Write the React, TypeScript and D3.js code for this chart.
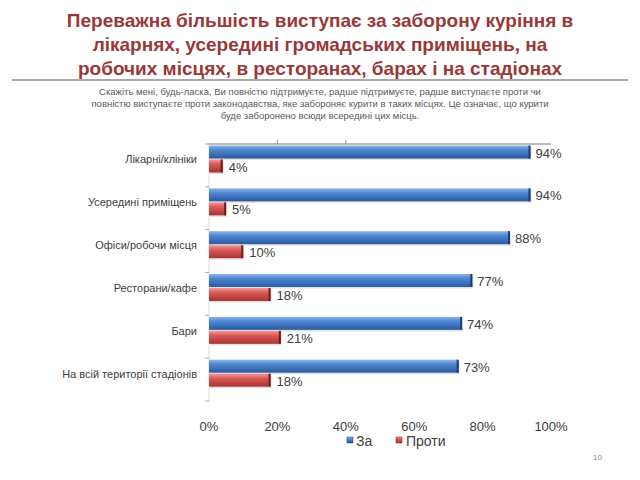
import React from 'react';
import * as d3 from 'd3';

// data
const categories = [
  'Лікарні/клініки',
  'Усередині приміщень',
  'Офіси/робочи місця',
  'Ресторани/кафе',
  'Бари',
  'На всій території стадіонів',
];
const forValues = [0.94, 0.94, 0.88, 0.77, 0.74, 0.73];
const againstValues = [0.04, 0.05, 0.1, 0.18, 0.21, 0.18];
const tickValues = [0, 0.2, 0.4, 0.6, 0.8, 1];
const seriesNames = ['За', 'Проти'];

const titleLines = [
  'Переважна більшість виступає за заборону куріння в',
  'лікарнях, усередині громадських приміщень, на',
  'робочих місцях, в ресторанах, барах і на стадіонах',
];
const subtitleLines = [
  'Скажіть мені, будь-ласка, Ви повністю підтримуєте, радше підтримуєте, радше виступаєте проти чи',
  'повністю виступаєте проти законодавства, яке забороняє курити в таких місцях. Це означає, що курити',
  'буде заборонено всюди всередині цих місць.',
];

const W = 640;
const H = 480;
const font = '"Liberation Sans", Arial, sans-serif';
const textGray = '#404040';

const x = d3.scaleLinear().domain([0, 1]).range([209, 551]);
const y = d3.scaleBand().domain(categories).range([144, 401]);
const fmt = d3.format('.0%');

function Bar({ x0, x1, top, h, id, edge }: any) {
  const w = Math.max(0, x1 - x0);
  return (
    <g>
      <rect x={x0 + 1} y={top + 1.5} width={w} height={h} fill="#000" opacity={0.12} />
      <rect x={x0} y={top} width={w} height={h} fill={`url(#${id})`} />
      <rect x={x1 - 2} y={top} width={2} height={h} fill={edge} />
    </g>
  );
}

export default function App() {
  const bh = 13;
  return (
    <svg
      width={W}
      height={H}
      style={{ position: 'absolute', left: 0, top: 0, background: '#fff' }}
    >
      <defs>
        <linearGradient id="gFor" x1="0" y1="0" x2="0" y2="1">
          <stop offset="0" stopColor="#8db6ea" />
          <stop offset="0.35" stopColor="#4f86d2" />
          <stop offset="1" stopColor="#2a5a9e" />
        </linearGradient>
        <linearGradient id="gAgainst" x1="0" y1="0" x2="0" y2="1">
          <stop offset="0" stopColor="#f29a98" />
          <stop offset="0.35" stopColor="#da5a57" />
          <stop offset="1" stopColor="#a93431" />
        </linearGradient>
      </defs>

      {/* title */}
      {titleLines.map((t, i) => (
        <text
          key={i}
          x={W / 2}
          y={27 + i * 24}
          textAnchor="middle"
          fontFamily={font}
          fontWeight="bold"
          fontSize={19}
          fill="#9a3838"
        >
          {t}
        </text>
      ))}
      <line x1={12} x2={628} y1={80} y2={80} stroke="#555" strokeWidth={1.2} />

      {subtitleLines.map((t, i) => (
        <text
          key={i}
          x={W / 2}
          y={95 + i * 12}
          textAnchor="middle"
          fontFamily={font}
          fontSize={9.5}
          fill="#595959"
        >
          {t}
        </text>
      ))}

      {/* plot frame */}
      <line x1={x(0) - 1} x2={x(1)} y1={y.range()[0]} y2={y.range()[0]} stroke="#555" strokeWidth={0.8} />
      {[0.2, 0.4].map((v) => (
        <line key={v} x1={x(v)} x2={x(v)} y1={140} y2={144} stroke="#777" strokeWidth={0.8} />
      ))}
      <line x1={x(0)} x2={x(0)} y1={144} y2={401} stroke="#ddd" strokeWidth={1} />
      {categories.map((c) => (
        <line key={c} x1={x(0) - 4} x2={x(0)} y1={y(c)} y2={y(c)} stroke="#999" strokeWidth={0.8} />
      ))}
      <line x1={x(0) - 4} x2={x(0)} y1={401} y2={401} stroke="#999" strokeWidth={0.8} />

      {/* bars */}
      {categories.map((c, i) => {
        const top = (y(c) as number) + 1.5;
        return (
          <g key={c}>
            <text
              x={197}
              y={top + bh + 1}
              dy="0.35em"
              textAnchor="end"
              fontFamily={font}
              fontSize={11}
              fill={textGray}
            >
              {c}
            </text>
            <Bar x0={x(0)} x1={x(forValues[i])} top={top} h={bh} id="gFor" edge="#1f3f70" />
            <Bar x0={x(0)} x1={x(againstValues[i])} top={top + bh + 1} h={bh} id="gAgainst" edge="#6e1e1c" />
            <text
              x={x(forValues[i]) + 5}
              y={top + bh / 2 + 1}
              dy="0.35em"
              fontFamily={font}
              fontSize={13}
              fill={textGray}
            >
              {fmt(forValues[i])}
            </text>
            <text
              x={x(againstValues[i]) + 6}
              y={top + bh * 1.5 + 2}
              dy="0.35em"
              fontFamily={font}
              fontSize={13}
              fill={textGray}
            >
              {fmt(againstValues[i])}
            </text>
          </g>
        );
      })}

      {/* x tick labels */}
      {tickValues.map((v) => (
        <text
          key={v}
          x={x(v)}
          y={426}
          dy="0.35em"
          textAnchor="middle"
          fontFamily={font}
          fontSize={13}
          fill={textGray}
        >
          {fmt(v)}
        </text>
      ))}

      {/* legend */}
      <g fontFamily={font} fontSize={14} fill={textGray}>
        <rect x={347} y={437} width={6} height={6} fill="url(#gFor)" stroke="#1f3f70" strokeWidth={0.5} />
        <text x={356} y={441} dy="0.35em">{seriesNames[0]}</text>
        <rect x={396} y={437} width={6} height={6} fill="url(#gAgainst)" stroke="#6e1e1c" strokeWidth={0.5} />
        <text x={406} y={441} dy="0.35em">{seriesNames[1]}</text>
      </g>

      <text x={593} y={457} dy="0.35em" fontFamily={font} fontSize={8} fill="#888">
        10
      </text>
    </svg>
  );
}
